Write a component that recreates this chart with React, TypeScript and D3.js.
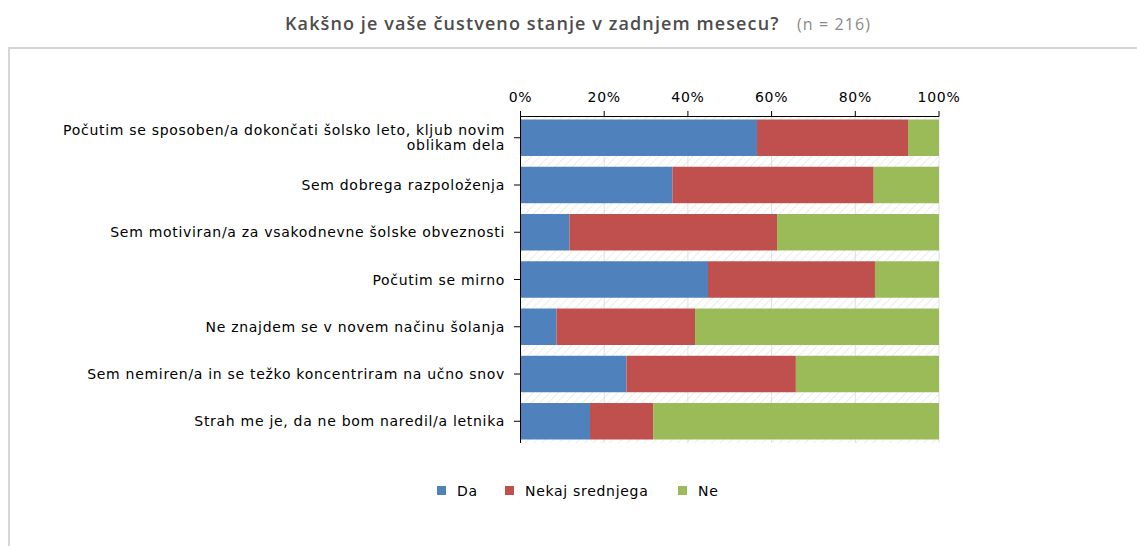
import React from "react";
import * as d3 from "d3";

const categories: string[][] = [
  ["Počutim se sposoben/a dokončati šolsko leto, kljub novim", "oblikam dela"],
  ["Sem dobrega razpoloženja"],
  ["Sem motiviran/a za vsakodnevne šolske obveznosti"],
  ["Počutim se mirno"],
  ["Ne znajdem se v novem načinu šolanja"],
  ["Sem nemiren/a in se težko koncentriram na učno snov"],
  ["Strah me je, da ne bom naredil/a letnika"],
];
const seriesNames = ["Da", "Nekaj srednjega", "Ne"];
const da = [56.5, 36.3, 11.7, 44.8, 8.6, 25.3, 16.6];
const nekaj = [36.1, 48.1, 49.6, 39.9, 33.1, 40.5, 15.1];
const ne = da.map((d, i) => 100 - d - nekaj[i]);
const tickValues = [0, 20, 40, 60, 80, 100];
const colors = ["#4f81bd", "#c0504d", "#9bbb59"];

const W = 1137;
const H = 546;

export default function App() {
  const x = d3.scaleLinear().domain([0, 100]).range([520.5, 939]);
  const y = d3
    .scaleBand<number>()
    .domain(d3.range(categories.length))
    .range([116, 443])
    .paddingInner(0.228)
    .paddingOuter(0.074);

  const stackData = categories.map((_, i) => ({ a: da[i], b: nekaj[i], c: ne[i] }));
  const stack = d3.stack<any>().keys(["a", "b", "c"])(stackData);

  const labelFont = "'DejaVu Sans', Verdana, sans-serif";
  const fs = 14;
  const ls = 0.7;

  return (
    <svg
      width={W}
      height={H}
      style={{ position: "absolute", left: 0, top: 0, background: "#fff" }}
    >
      <defs>
        <pattern id="hatch" width="6" height="6" patternUnits="userSpaceOnUse" patternTransform="rotate(45)">
          <rect width="6" height="6" fill="#ffffff" />
          <line x1="0" y1="0" x2="0" y2="6" stroke="#ececec" strokeWidth="2" />
        </pattern>
      </defs>

      {/* title */}
      <text x={285} y={30} fontFamily="'Open Sans', sans-serif" fontSize={18} fill="#4d4d4d" letterSpacing={1.1}>
        <tspan fontWeight={600}>Kakšno je vaše čustveno stanje v zadnjem mesecu?</tspan>
        <tspan x={797} fontWeight={400} fill="#8a8a8a" fontSize={16}>(n = 216)</tspan>
      </text>

      {/* panel border */}
      <line x1={8} x2={W} y1={48} y2={48} stroke="#d6d6d6" strokeWidth={2} />
      <line x1={9} x2={9} y1={48} y2={H} stroke="#d6d6d6" strokeWidth={2} />

      {/* plot background */}
      <rect x={x(0)} y={116} width={x(100) - x(0)} height={443 - 116} fill="url(#hatch)" />
      {tickValues.map((t) => (
        <line key={"g" + t} x1={x(t)} x2={x(t)} y1={116} y2={443} stroke="#e0e0e0" strokeWidth={1} />
      ))}

      {/* bars */}
      {stack.map((s, k) => (
        <g key={k} fill={colors[k]}>
          {s.map((d: any, i: number) => (
            <rect key={i} x={x(d[0])} y={y(i)} width={x(d[1]) - x(d[0])} height={y.bandwidth()} />
          ))}
        </g>
      ))}

      {/* top axis */}
      <line x1={x(0)} x2={x(100)} y1={116.5} y2={116.5} stroke="#000" strokeWidth={1} />
      {tickValues.map((t) => (
        <g key={"t" + t}>
          <line x1={x(t)} x2={x(t)} y1={111} y2={116.5} stroke="#000" strokeWidth={1} />
          <text x={x(t)} y={102} textAnchor="middle" fontFamily={labelFont} fontSize={fs} letterSpacing={ls} fill="#000">
            {t}%
          </text>
        </g>
      ))}

      {/* left axis */}
      <line x1={520.5} x2={520.5} y1={116} y2={443} stroke="#000" strokeWidth={1} />
      {categories.map((lines, i) => {
        const cy = (y(i) as number) + y.bandwidth() / 2;
        const lh = 15.5;
        const y0 = cy + 5 - ((lines.length - 1) * lh) / 2;
        return (
          <g key={"c" + i}>
            <line x1={514} x2={520.5} y1={cy} y2={cy} stroke="#000" strokeWidth={1} />
            <text textAnchor="end" fontFamily={labelFont} fontSize={fs} letterSpacing={ls} fill="#000">
              {lines.map((l, j) => (
                <tspan key={j} x={505} y={y0 + j * lh}>
                  {l}
                </tspan>
              ))}
            </text>
          </g>
        );
      })}

      {/* legend */}
      {seriesNames.map((n, k) => {
        const lx = [437, 505, 678][k];
        return (
          <g key={"l" + k}>
            <rect x={lx} y={486} width={9} height={9} fill={colors[k]} />
            <text x={lx + 20} y={496} fontFamily={labelFont} fontSize={fs} letterSpacing={ls} fill="#000">
              {n}
            </text>
          </g>
        );
      })}
    </svg>
  );
}
